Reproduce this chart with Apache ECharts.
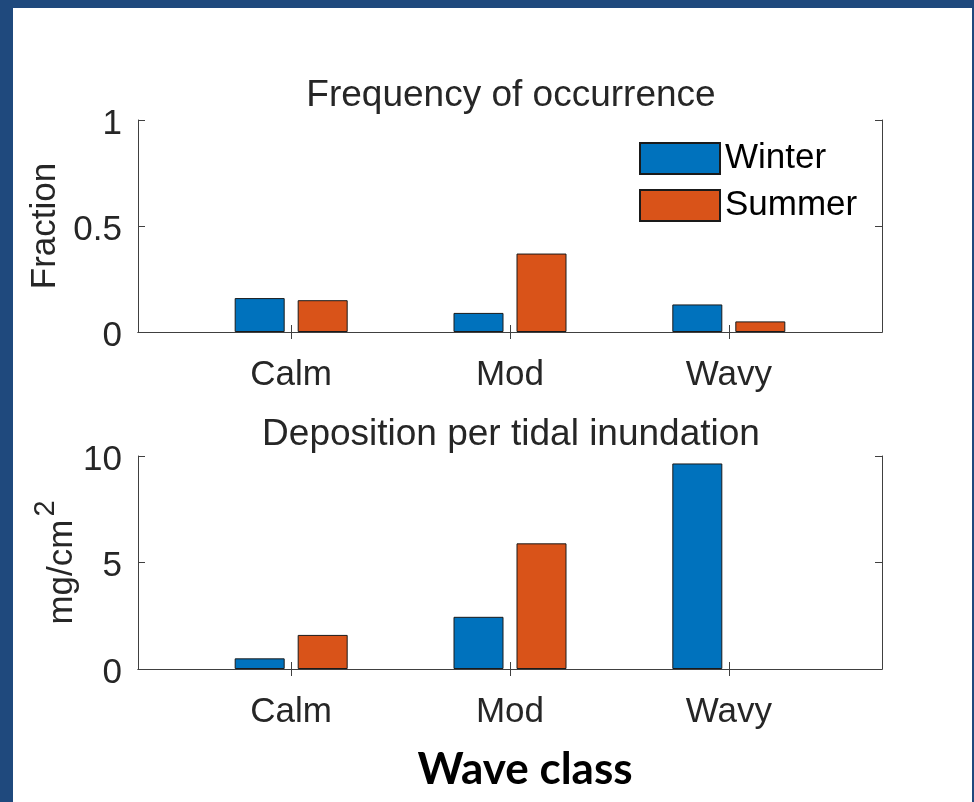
<!DOCTYPE html>
<html>
<head>
<meta charset="utf-8">
<title>Wave class: frequency and deposition</title>
<script src="https://cdn.jsdelivr.net/npm/echarts@6/dist/echarts.min.js"></script>
<style>
  html, body { margin: 0; padding: 0; background: #ffffff; }
  #chart { width: 974px; height: 802px; }
</style>
</head>
<body>
<div id="chart"></div>
<script>
// Wave classes along the x axis
const categories = ['Calm', 'Mod', 'Wavy'];
// Frequency of occurrence (fraction of tides)
const freqWinter = [0.16, 0.09, 0.13];
const freqSummer = [0.15, 0.37, 0.05];
// Deposition per tidal inundation (mg/cm^2); no summer value for the wavy class
const depWinter = [0.5, 2.45, 9.65];
const depSummer = [1.6, 5.9, null];
// Tick values on each y axis
const freqTicks = [0, 0.5, 1];
const depTicks = [0, 5, 10];

const WINTER = '#0072BD';
const SUMMER = '#D95319';
const AXIS = '#404040';
const TEXT = '#262626';
const FONT = '"Liberation Sans", Arial, sans-serif';

const catPos = categories.map((c, i) => i + 1);
const toPairs = vals => vals.map((v, i) => [catPos[i], v == null ? '-' : v]);

function xAxes(gridIndex) {
  return [
    {
      type: 'value', gridIndex, position: 'bottom', min: 0.3, max: 3.7,
      axisLine: { show: true, lineStyle: { color: AXIS, width: 1 } },
      axisTick: { show: true, inside: true, length: 7, customValues: catPos, lineStyle: { color: AXIS } },
      axisLabel: {
        show: true, customValues: catPos, margin: 26,
        formatter: v => categories[Math.round(v) - 1] || '',
        color: TEXT, fontSize: 35, fontFamily: FONT
      },
      splitLine: { show: false }
    },
    {
      type: 'value', gridIndex, position: 'top', min: 0.3, max: 3.7,
      axisLine: { show: true, lineStyle: { color: AXIS, width: 1 } },
      axisTick: { show: true, inside: true, length: 7, customValues: catPos, lineStyle: { color: AXIS } },
      axisLabel: { show: false },
      splitLine: { show: false }
    }
  ];
}

function yAxes(gridIndex, ticks, name, nameGap, nameMoveOverlap, nameRich) {
  const lo = ticks[0], hi = ticks[ticks.length - 1], step = ticks[1] - ticks[0];
  return [
    {
      type: 'value', gridIndex, position: 'left', min: lo, max: hi, interval: step,
      name, nameLocation: 'middle', nameGap, nameMoveOverlap,
      nameTextStyle: { color: TEXT, fontSize: 35, fontFamily: FONT, rich: nameRich },
      axisLine: { show: true, lineStyle: { color: AXIS, width: 1 } },
      axisTick: { show: true, inside: true, length: 7, lineStyle: { color: AXIS } },
      axisLabel: {
        show: true, margin: 16, color: TEXT, fontSize: 35, fontFamily: FONT,
        formatter: v => '{n|' + v + '}',
        rich: { n: { fontSize: 35, fontFamily: FONT, color: TEXT, lineHeight: 35, padding: [8, 0, 0, 0] } }
      },
      splitLine: { show: false }
    },
    {
      type: 'value', gridIndex, position: 'right', min: lo, max: hi, interval: step,
      axisLine: { show: true, lineStyle: { color: AXIS, width: 1 } },
      axisTick: { show: true, inside: true, length: 7, lineStyle: { color: AXIS } },
      axisLabel: { show: false },
      splitLine: { show: false }
    }
  ];
}

function bars(name, color, data, axisIndex) {
  return {
    type: 'bar', name, xAxisIndex: axisIndex, yAxisIndex: axisIndex,
    data: toPairs(data), barWidth: 50, barGap: '26%',
    itemStyle: { color, borderColor: '#1a1a1a', borderWidth: 1 },
    emphasis: { disabled: true }, silent: true, animation: false
  };
}

// Unit label with a raised exponent
const unitRich = {
  b: { fontSize: 35, fontFamily: FONT, color: TEXT, lineHeight: 35 },
  sup: { fontSize: 29, fontFamily: FONT, color: TEXT, lineHeight: 29, padding: [0, 0, 34, 3] }
};

const option = {
  animation: false,
  backgroundColor: '#ffffff',
  graphic: [
    { type: 'rect', left: 0, top: 0, shape: { width: 13, height: 802 }, style: { fill: '#1F497D' }, silent: true },
    { type: 'rect', left: 0, top: 0, shape: { width: 974, height: 8 }, style: { fill: '#1F497D' }, silent: true },
    { type: 'rect', left: 972, top: 0, shape: { width: 2, height: 802 }, style: { fill: '#1F497D' }, silent: true }
  ],
  title: [
    { text: 'Frequency of occurrence', left: 511, top: 77, textAlign: 'center', padding: 0,
      textStyle: { color: TEXT, fontSize: 37, fontWeight: 'normal', fontFamily: FONT } },
    { text: 'Deposition per tidal inundation', left: 511, top: 416, textAlign: 'center', padding: 0,
      textStyle: { color: TEXT, fontSize: 37, fontWeight: 'normal', fontFamily: FONT } },
    { text: 'Wave class', left: 525, top: 748, textAlign: 'center', padding: 0,
      textStyle: { color: '#000000', fontSize: 44, fontWeight: 'bold', fontFamily: 'Lato, "Open Sans", sans-serif' } }
  ],
  legend: {
    data: ['Winter', 'Summer'], orient: 'vertical', left: 639, top: 141, padding: 0,
    itemWidth: 80, itemHeight: 31, itemGap: 12, icon: 'rect',
    textStyle: { color: '#000000', fontSize: 35, fontFamily: FONT },
    selectedMode: false
  },
  grid: [
    { left: 138, top: 120, width: 744, height: 212, containLabel: false },
    { left: 138, top: 456, width: 744, height: 213, containLabel: false }
  ],
  xAxis: [...xAxes(0), ...xAxes(1)],
  yAxis: [
    ...yAxes(0, freqTicks, 'Fraction', 74, true),
    ...yAxes(1, depTicks, '{b|mg/cm}{sup|2}', 58, false, unitRich)
  ],
  series: [
    bars('Winter', WINTER, freqWinter, 0),
    bars('Summer', SUMMER, freqSummer, 0),
    bars('Winter', WINTER, depWinter, 2),
    bars('Summer', SUMMER, depSummer, 2)
  ]
};

const chart = echarts.init(document.getElementById('chart'), null, { renderer: 'canvas' });
chart.setOption(option);
</script>
</body>
</html>
